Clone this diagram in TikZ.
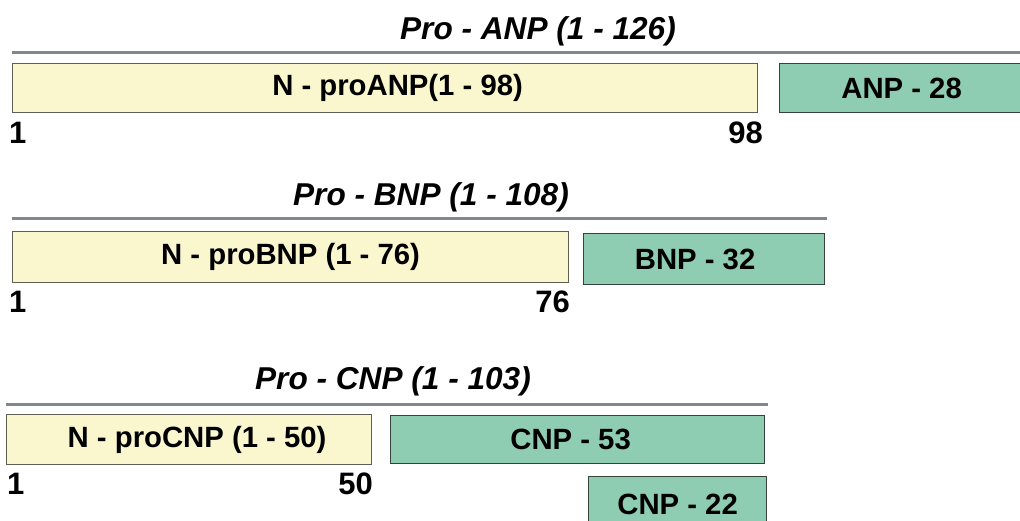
\documentclass[tikz,border=0pt]{standalone}
\usepackage{fontspec}
\setmainfont{Liberation Sans}
\definecolor{creamfill}{HTML}{FAF7CF}
\definecolor{creamedge}{HTML}{5E5E52}
\definecolor{mintfill}{HTML}{8ECDB2}
\definecolor{mintedge}{HTML}{34433B}
\definecolor{rulegray}{HTML}{7F888D}
\tikzset{
  seg/.style={anchor=north west, inner sep=0pt, line width=1.2pt,
    font=\fontsize{29.3}{32}\selectfont\bfseries},
  prosegment/.style={seg, draw=creamedge, fill=creamfill},
  peptide/.style={seg, draw=mintedge, fill=mintfill},
  heading/.style={anchor=base, inner sep=0pt,
    font=\fontsize{31.6}{34}\selectfont\bfseries\itshape},
  residue/.style={inner sep=0pt, font=\fontsize{31}{33}\selectfont\bfseries},
  precursor/.style={line width=3.2pt, draw=rulegray}
}
\begin{document}
\begin{tikzpicture}[x=1pt, y=-1pt]
\useasboundingbox (0,0) rectangle (1020,520);

% ---- pro-ANP ----
\node[heading] (anpT) at (538,39) {Pro - ANP (1 - 126)};
\coordinate (anpL) at (12,52.5);
\coordinate (anpR) at (1022,52.5);
\draw[precursor] (anpL) -- (anpR);
\node[prosegment, minimum width=745pt, minimum height=49pt] (nanp) at (12,63) {\hspace*{25pt}N - proANP(1 - 98)};
\node[peptide, minimum width=244pt, minimum height=49pt] (anp) at (779,63) {ANP - 28};
\node[residue, anchor=base west] (anp1) at (9,143) {1};
\node[residue, anchor=base east] (anp98) at (763,143) {98};

% ---- pro-BNP ----
\node[heading] (bnpT) at (431,205) {Pro - BNP (1 - 108)};
\coordinate (bnpL) at (12,218.5);
\coordinate (bnpR) at (827,218.5);
\draw[precursor] (bnpL) -- (bnpR);
\node[prosegment, minimum width=556pt, minimum height=51pt] (nbnp) at (12,231) {N - proBNP (1 - 76)};
\node[peptide, minimum width=241pt, minimum height=51pt] (bnp) at (583,233) {BNP - 32\hspace*{18pt}};
\node[residue, anchor=base west] (bnp1) at (9,312) {1};
\node[residue, anchor=base east] (bnp76) at (570,312) {76};

% ---- pro-CNP ----
\node[heading] (cnpT) at (393,389) {Pro - CNP (1 - 103)};
\coordinate (cnpL) at (6,404.5);
\coordinate (cnpR) at (768,404.5);
\draw[precursor] (cnpL) -- (cnpR);
\node[prosegment, minimum width=365pt, minimum height=50pt] (ncnp) at (6,414) {\hspace*{16pt}N - proCNP (1 - 50)};
\node[peptide, minimum width=374pt, minimum height=48pt] (cnp53) at (390,415) {CNP - 53\hspace*{14pt}};
\node[peptide, minimum width=178pt, minimum height=56pt] (cnp22) at (588,476) {CNP - 22};
\node[residue, anchor=base west] (cnp1) at (7,494) {1};
\node[residue, anchor=base east] (cnp50) at (373,494) {50};
\end{tikzpicture}
\end{document}
